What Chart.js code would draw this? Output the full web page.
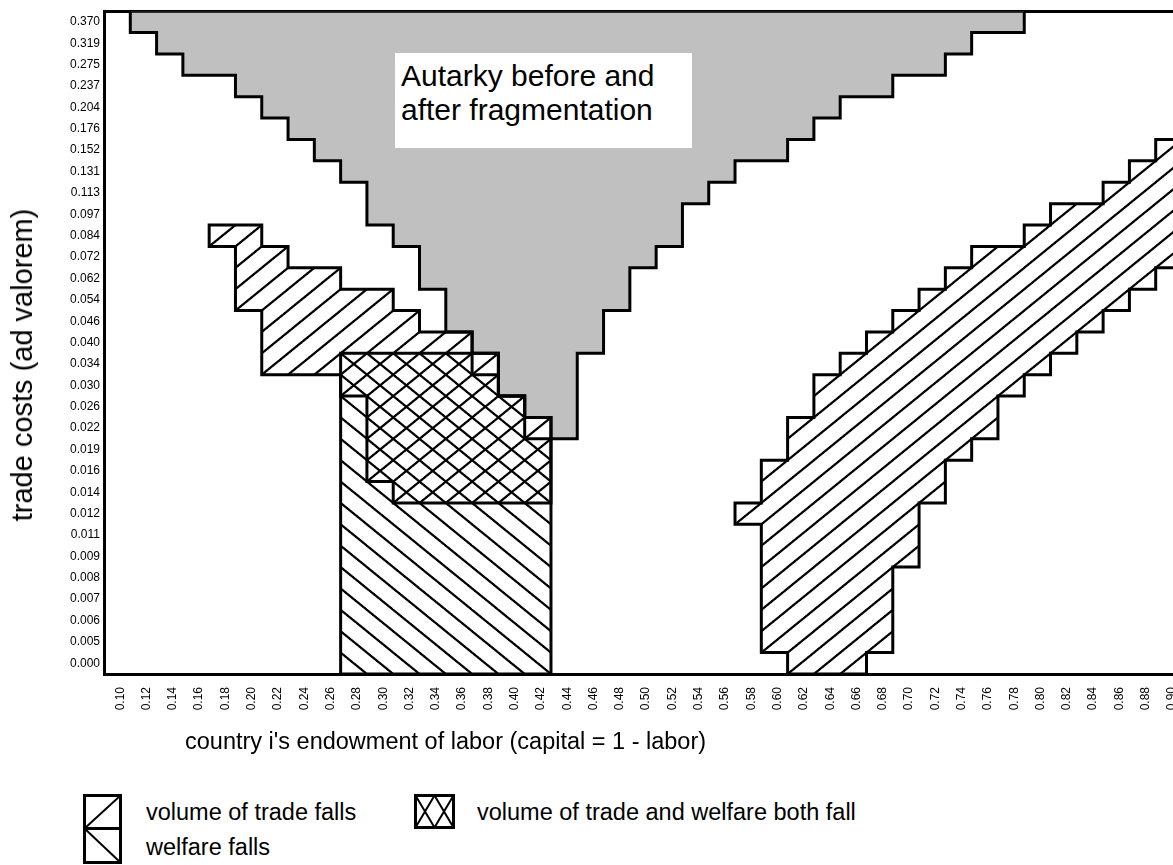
<!DOCTYPE html>
<html lang="en">
<head>
<meta charset="UTF-8">
<title>Trade costs and fragmentation</title>
<script src="https://cdn.jsdelivr.net/npm/chart.js@4"></script>
<style>
  body { margin: 0; background: #fff; color: #000; overflow: hidden;
         font-family: 'Liberation Sans', Arial, sans-serif; }
  #page { position: relative; width: 1173px; height: 865px; overflow: hidden; }
  #chartBox { position: absolute; left: 0; top: 0; width: 1210px; height: 730px; }
  .txt { position: absolute; white-space: nowrap; line-height: 28px; }
  #yTitle { font-size: 29px; left: 22px; top: 365px; transform: translate(-50%, -50%) rotate(-90deg); }
  #autarky { left: 395px; top: 53px; width: 297px; height: 95px; background: #fff;
             font-size: 30px; line-height: 34px; padding: 6px 0 0 6px; box-sizing: border-box; }
  #xTitle { font-size: 23.5px; left: 185px; top: 727px; }
  .leg { font-size: 23.5px; }
  svg { position: absolute; }
</style>
</head>
<body>
<div id="page">
  <div id="chartBox"><canvas id="chart"></canvas></div>
  <div class="txt" id="yTitle">trade costs (ad valorem)</div>
  <div class="txt" id="autarky">Autarky before and<br>after fragmentation</div>
  <div class="txt" id="xTitle">country i's endowment of labor (capital = 1 - labor)</div>

  <svg width="40" height="72" style="left:83px; top:794px">
    <g fill="none" stroke="#000" stroke-width="3">
      <rect x="1.5" y="1.5" width="36" height="33"/>
      <rect x="1.5" y="34.5" width="36" height="34"/>
    </g>
    <g stroke="#000" stroke-width="2">
      <line x1="1.5" y1="34.5" x2="37.5" y2="1.5"/>
      <line x1="1.5" y1="34.5" x2="37.5" y2="68.5"/>
    </g>
  </svg>
  <div class="txt leg" style="left:146px; top:798px">volume of trade falls</div>
  <div class="txt leg" style="left:146px; top:833px">welfare falls</div>

  <svg width="42" height="36" style="left:414px; top:794px">
    <rect x="1.5" y="1.5" width="38" height="32" fill="none" stroke="#000" stroke-width="3"/>
    <g stroke="#000" stroke-width="2">
      <line x1="1.5" y1="1.5" x2="20.5" y2="33.5"/>
      <line x1="1.5" y1="33.5" x2="20.5" y2="1.5"/>
      <line x1="20.5" y1="1.5" x2="39.5" y2="33.5"/>
      <line x1="20.5" y1="33.5" x2="39.5" y2="1.5"/>
    </g>
  </svg>
  <div class="txt leg" style="left:477px; top:798px">volume of trade and welfare both fall</div>
</div>

<script>
  // labor endowment categories (columns) and trade cost levels (rows, bottom to top)
  const xLabels = ['0.10', '0.12', '0.14', '0.16', '0.18', '0.20', '0.22', '0.24', '0.26', '0.28',
                   '0.30', '0.32', '0.34', '0.36', '0.38', '0.40', '0.42', '0.44', '0.46', '0.48',
                   '0.50', '0.52', '0.54', '0.56', '0.58', '0.60', '0.62', '0.64', '0.66', '0.68',
                   '0.70', '0.72', '0.74', '0.76', '0.78', '0.80', '0.82', '0.84', '0.86', '0.88', '0.90'];
  const yLabels = ['0.000', '0.005', '0.006', '0.007', '0.008', '0.009', '0.011', '0.012', '0.014', '0.016',
                   '0.019', '0.022', '0.026', '0.030', '0.034', '0.040', '0.046', '0.054', '0.062', '0.072',
                   '0.084', '0.097', '0.113', '0.131', '0.152', '0.176', '0.204', '0.237', '0.275', '0.319', '0.370'];

  // every region: first column, then lower and upper row edge of each column
  const autarkyFrom = 1;
  const autarkyLow  = [30, 29, 28, 28, 27, 26, 25, 24, 23, 21, 20, 18, 16, 15, 13, 12, 11,
                       15, 17, 19, 20, 22, 23, 24, 24, 25, 26, 27, 27, 28, 28, 29, 30, 30];
  const autarkyHigh = [31, 31, 31, 31, 31, 31, 31, 31, 31, 31, 31, 31, 31, 31, 31, 31, 31,
                       31, 31, 31, 31, 31, 31, 31, 31, 31, 31, 31, 31, 31, 31, 31, 31, 31];

  const tradeLeftFrom = 4;
  const tradeLeftLow  = [20, 17, 14, 14, 14, 13, 9, 8, 8, 8, 8, 8, 8];
  const tradeLeftHigh = [21, 21, 20, 19, 19, 18, 18, 17, 16, 16, 15, 13, 12];

  const welfareFrom = 9;
  const welfareLow  = [0, 0, 0, 0, 0, 0, 0, 0];
  const welfareHigh = [15, 15, 15, 15, 15, 14, 13, 11];

  const tradeRightFrom = 24;
  const tradeRightLow  = [7, 1, 0, 0, 0, 1, 5, 8, 10, 11, 13, 14, 15, 16, 17, 18, 19];
  const tradeRightHigh = [8, 10, 12, 14, 15, 16, 17, 18, 19, 20, 20, 21, 22, 22, 23, 24, 25];

  const ink = '#000';
  Chart.defaults.font.family = "'Liberation Sans', Arial, sans-serif";

  // turn column ranges into a closed stepped outline
  function outline(from, low, high) {
    const pts = [];
    high.forEach((h, i) => pts.push({ x: from + i, y: h }, { x: from + i + 1, y: h }));
    for (let i = low.length - 1; i >= 0; i--) {
      pts.push({ x: from + i + 1, y: low[i] }, { x: from + i, y: low[i] });
    }
    pts.push(pts[0]);
    return pts;
  }

  // diagonal hatch that runs through the cell corners
  function hatch(chart, rising) {
    const { x, y } = chart.scales;
    const T = 40;
    const tile = document.createElement('canvas');
    tile.width = T;
    tile.height = T;
    const g = tile.getContext('2d');
    g.strokeStyle = ink;
    g.lineWidth = 3.8;
    for (const k of [-1, 0, 1]) {
      g.beginPath();
      if (rising) {
        const c = T + k * T;
        g.moveTo(-T, c + T);
        g.lineTo(c + T, -T);
      } else {
        g.moveTo(-T, -T + k * T);
        g.lineTo(2 * T, 2 * T + k * T);
      }
      g.stroke();
    }
    const p = chart.ctx.createPattern(tile, 'repeat');
    const x0 = x.getPixelForValue(0);
    const y0 = y.getPixelForValue(yLabels.length);
    const sx = (x.getPixelForValue(1) - x0) / T;
    const sy = (y.getPixelForValue(0) - y.getPixelForValue(1)) / T;
    p.setTransform(new DOMMatrix([sx, 0, 0, sy, x0, y0]));
    return p;
  }

  const shape = {
    showLine: true, fill: 'shape', borderColor: ink, borderWidth: 3,
    borderJoinStyle: 'miter', borderCapStyle: 'square',
    pointRadius: 0, pointHoverRadius: 0, tension: 0, backgroundColor: 'transparent'
  };

  const chart = new Chart(document.getElementById('chart'), {
    type: 'scatter',
    data: {
      datasets: [
        { label: 'welfare falls', data: outline(welfareFrom, welfareLow, welfareHigh), ...shape, order: 1 },
        { label: 'volume of trade falls', data: outline(tradeRightFrom, tradeRightLow, tradeRightHigh), ...shape, order: 2 },
        { label: 'volume of trade falls', data: outline(tradeLeftFrom, tradeLeftLow, tradeLeftHigh), ...shape, order: 3 },
        { label: 'Autarky before and after fragmentation', data: outline(autarkyFrom, autarkyLow, autarkyHigh),
          ...shape, backgroundColor: '#c0c0c0', order: 4 }
      ]
    },
    options: {
      responsive: true,
      maintainAspectRatio: false,
      animation: false,
      events: [],
      // the plot runs past the right edge of the picture, as in the source
      layout: { padding: { top: 10, right: 28, left: 0, bottom: 0 } },
      plugins: { legend: { display: false }, tooltip: { enabled: false } },
      scales: {
        x: {
          type: 'linear', min: 0, max: xLabels.length, z: 1,
          grid: { display: false, drawTicks: false },
          border: { display: true, color: ink, width: 3 },
          // labels sit a little right of the column centre in the source
          afterBuildTicks: s => { s.ticks = xLabels.map((_, i) => ({ value: i + 0.62 })); },
          afterFit: s => { s.height = 56; },
          ticks: { autoSkip: false, minRotation: 90, maxRotation: 90, padding: 13, color: ink,
                   font: { size: 12 }, callback: (v, i) => xLabels[i] }
        },
        y: {
          type: 'linear', min: 0, max: yLabels.length, z: 1,
          grid: { display: false, drawTicks: false },
          border: { display: true, color: ink, width: 3 },
          afterBuildTicks: s => { s.ticks = yLabels.map((_, i) => ({ value: i + 0.5 })); },
          afterFit: s => { s.width = 104; },
          ticks: { padding: 4, color: ink, font: { size: 12 }, callback: (v, i) => yLabels[i] }
        },
        top: {
          type: 'linear', position: 'top', min: 0, max: xLabels.length, z: 1,
          grid: { display: false, drawTicks: false },
          ticks: { display: false },
          border: { display: true, color: ink, width: 3 },
          afterFit: s => { s.height = 0; }
        }
      }
    }
  });

  chart.data.datasets[0].backgroundColor = hatch(chart, false);
  chart.data.datasets[1].backgroundColor = hatch(chart, true);
  chart.data.datasets[2].backgroundColor = hatch(chart, true);
  chart.update('none');
</script>
</body>
</html>
